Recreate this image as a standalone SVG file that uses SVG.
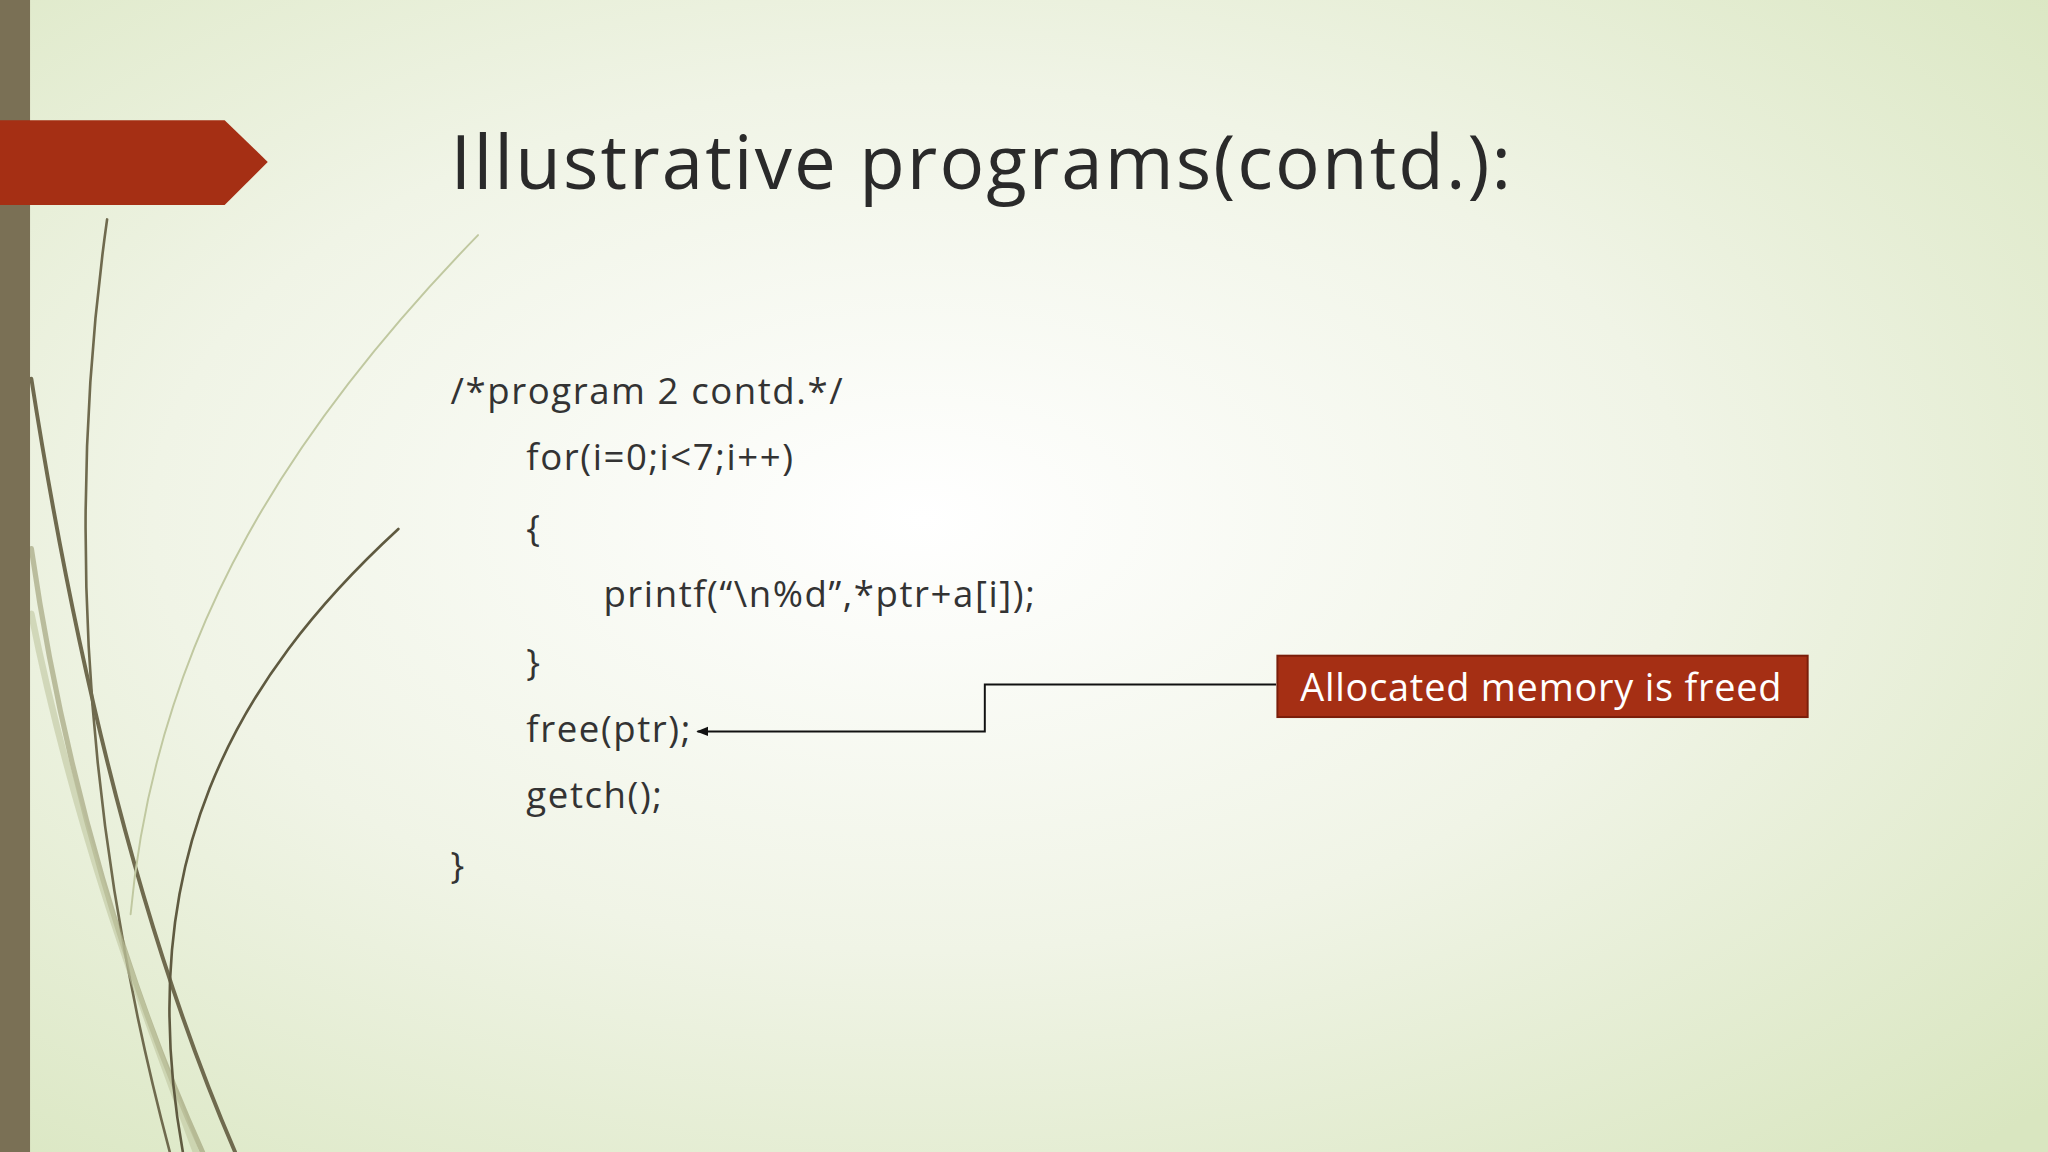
<svg xmlns="http://www.w3.org/2000/svg" width="2048" height="1152" viewBox="0 0 2048 1152">
<defs>
<radialGradient id="bg" cx="0.45" cy="0.45" r="0.75">
<stop offset="0" stop-color="#ffffff"/>
<stop offset="0.5" stop-color="#f0f4e6"/>
<stop offset="1" stop-color="#d9e6c0"/>
</radialGradient>
<marker id="ah" viewBox="0 0 10 10" refX="9" refY="5" markerWidth="6" markerHeight="6" orient="auto"><path d="M0,1 L10,5 L0,9 z" fill="#111"/></marker>
<style>
.code{font-family:"Open Sans","Liberation Sans",sans-serif;font-size:28px;fill:#333;letter-spacing:1.2px}
.title{font-family:"Open Sans","Liberation Sans",sans-serif;font-size:57px;fill:#2a2a2a;letter-spacing:1.6px}
.grass{fill:none;stroke-linecap:round}
</style>
</defs>
<g transform="scale(1.30612)">
<rect width="1568" height="882" fill="url(#bg)"/>
<g id="decor">
<path class="grass" d="M82,168 C55,360 55,600 130,882" stroke="#6f6a4e" stroke-width="2"/>
<path class="grass" d="M24,290 C60,520 110,720 180,882" stroke="#6f6a4e" stroke-width="3"/>
<path class="grass" d="M24,420 C50,600 100,760 155,882" stroke="#9a9a70" stroke-width="4" opacity="0.6"/>
<path class="grass" d="M24,470 C60,650 120,800 150,882" stroke="#bfc7a0" stroke-width="5" opacity="0.6"/>
<path class="grass" d="M305,405 C180,520 100,660 140,882" stroke="#5f5a40" stroke-width="2"/>
<path class="grass" d="M366,180 C230,320 120,480 100,700" stroke="#c0c8a0" stroke-width="1.5"/>
<rect x="0" y="0" width="23" height="882" fill="#7a7055"/>
<polygon points="0,92 172,92 205,124 172,157 0,157" fill="#a52f14"/>
</g>
<g id="title"><text class="title" x="345" y="145">Illustrative programs(contd.):</text></g>
<g id="code">
<text class="code" x="345" y="309">/*program 2 contd.*/</text>
<text class="code" x="403" y="360">for(i=0;i&lt;7;i++)</text>
<text class="code" x="403" y="414">{</text>
<text class="code" x="462" y="465">printf(“\n%d”,*ptr+a[i]);</text>
<text class="code" x="403" y="517">}</text>
<text class="code" x="403" y="568">free(ptr);</text>
<text class="code" x="403" y="619">getch();</text>
<text class="code" x="345" y="672">}</text>
</g>
<g id="connectors">
<polyline points="977,524 754,524 754,560 534,560" fill="none" stroke="#111" stroke-width="1.5" marker-end="url(#ah)"/>
</g>
<g id="callout">
<rect x="978" y="502" width="406" height="47" fill="#a52f14" stroke="#7a1e0a" stroke-width="1.5"/>
<text x="1180" y="537" text-anchor="middle" font-family="Open Sans, Liberation Sans, sans-serif" font-size="29" fill="#fff" letter-spacing="0.6">Allocated memory is freed</text>
</g>
</g>
</svg>
